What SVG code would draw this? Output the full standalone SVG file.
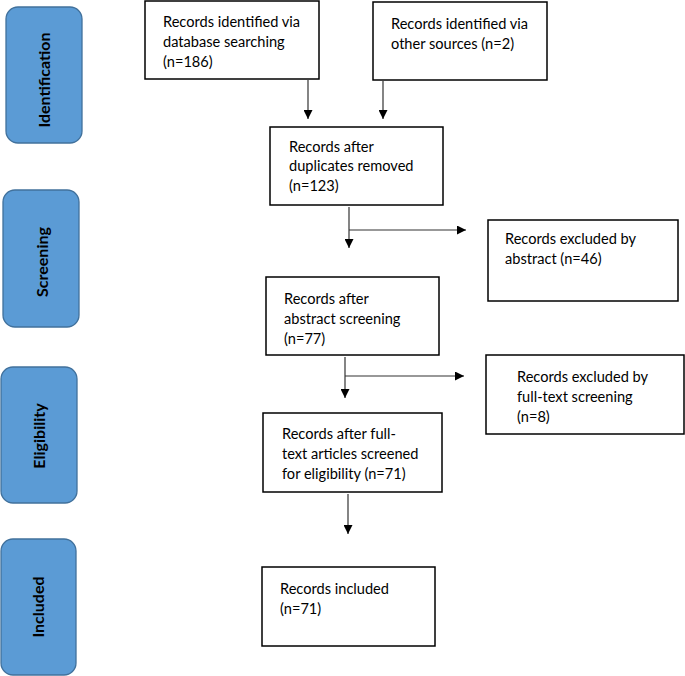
<svg xmlns="http://www.w3.org/2000/svg" width="685" height="676" viewBox="0 0 685 676">
<style>
.side{fill:#5B9BD5;stroke:#41719C;stroke-width:1.3}
.sl{font-family:Lato,"Open Sans",sans-serif;font-weight:bold;font-size:16px;fill:#000;text-anchor:middle;dominant-baseline:central}
.box{fill:#fff;stroke:#000;stroke-width:1.5}
.t{font-family:Lato,"Liberation Sans",sans-serif;font-size:14.6px;fill:#000}
.c{stroke:#333;stroke-width:1.2;fill:none}
</style>
<defs>
<marker id="ah" viewBox="0 0 10 10" refX="10" refY="5" markerWidth="9" markerHeight="9" markerUnits="userSpaceOnUse" orient="auto">
<path d="M0,0 L10,5 L0,10 Z" fill="#000"/>
</marker>
</defs>
<rect width="685" height="676" fill="#fff"/>
<g id="side-identification"><rect class="side" x="6" y="7" width="76" height="136" rx="12"/><text class="sl" transform="translate(43,80) rotate(-90)">Identification</text></g>
<g id="side-screening"><rect class="side" x="3" y="190" width="76" height="137" rx="12"/><text class="sl" transform="translate(41,262) rotate(-90)">Screening</text></g>
<g id="side-eligibility"><rect class="side" x="1" y="367" width="76" height="136" rx="12"/><text class="sl" transform="translate(38,436) rotate(-90)">Eligibility</text></g>
<g id="side-included"><rect class="side" x="1" y="539" width="75" height="136" rx="12"/><text class="sl" transform="translate(37,607) rotate(-90)">Included</text></g>

<g id="n-db"><rect class="box" x="145" y="1" width="174" height="78"/><text class="t" x="163"><tspan x="163" y="27">Records identified via</tspan><tspan x="163" y="47">database searching</tspan><tspan x="163" y="67">(n=186)</tspan></text></g>
<g id="n-other"><rect class="box" x="373" y="2" width="174" height="78"/><text class="t"><tspan x="391" y="29">Records identified via</tspan><tspan x="391" y="49">other sources (n=2)</tspan></text></g>
<g id="n-dup"><rect class="box" x="270" y="127" width="173" height="78"/><text class="t"><tspan x="289" y="152">Records after</tspan><tspan x="289" y="171">duplicates removed</tspan><tspan x="289" y="191">(n=123)</tspan></text></g>
<g id="n-exabs"><rect class="box" x="488" y="220" width="190" height="81"/><text class="t"><tspan x="505" y="244">Records excluded by</tspan><tspan x="505" y="264">abstract (n=46)</tspan></text></g>
<g id="n-abs"><rect class="box" x="266" y="277" width="173" height="78"/><text class="t"><tspan x="284" y="304">Records after</tspan><tspan x="284" y="324">abstract screening</tspan><tspan x="284" y="344">(n=77)</tspan></text></g>
<g id="n-exft"><rect class="box" x="486" y="355" width="198" height="79"/><text class="t"><tspan x="517" y="382">Records excluded by</tspan><tspan x="517" y="402">full-text screening</tspan><tspan x="517" y="422">(n=8)</tspan></text></g>
<g id="n-ft"><rect class="box" x="263" y="413" width="179" height="79"/><text class="t"><tspan x="282" y="439">Records after full-</tspan><tspan x="282" y="459">text articles screened</tspan><tspan x="282" y="479">for eligibility (n=71)</tspan></text></g>
<g id="n-inc"><rect class="box" x="262" y="567" width="173" height="79"/><text class="t"><tspan x="280" y="594">Records included</tspan><tspan x="280" y="614">(n=71)</tspan></text></g>

<g id="connectors">
<line class="c" x1="308" y1="80" x2="308" y2="119" marker-end="url(#ah)"/>
<line class="c" x1="383" y1="81" x2="383" y2="119" marker-end="url(#ah)"/>
<line class="c" x1="349" y1="207" x2="349" y2="248" marker-end="url(#ah)"/>
<line class="c" x1="349" y1="230" x2="466" y2="230" marker-end="url(#ah)"/>
<line class="c" x1="345" y1="357" x2="345" y2="398" marker-end="url(#ah)"/>
<line class="c" x1="345" y1="376" x2="464" y2="376" marker-end="url(#ah)"/>
<line class="c" x1="348" y1="494" x2="348" y2="534" marker-end="url(#ah)"/>
</g>
</svg>
